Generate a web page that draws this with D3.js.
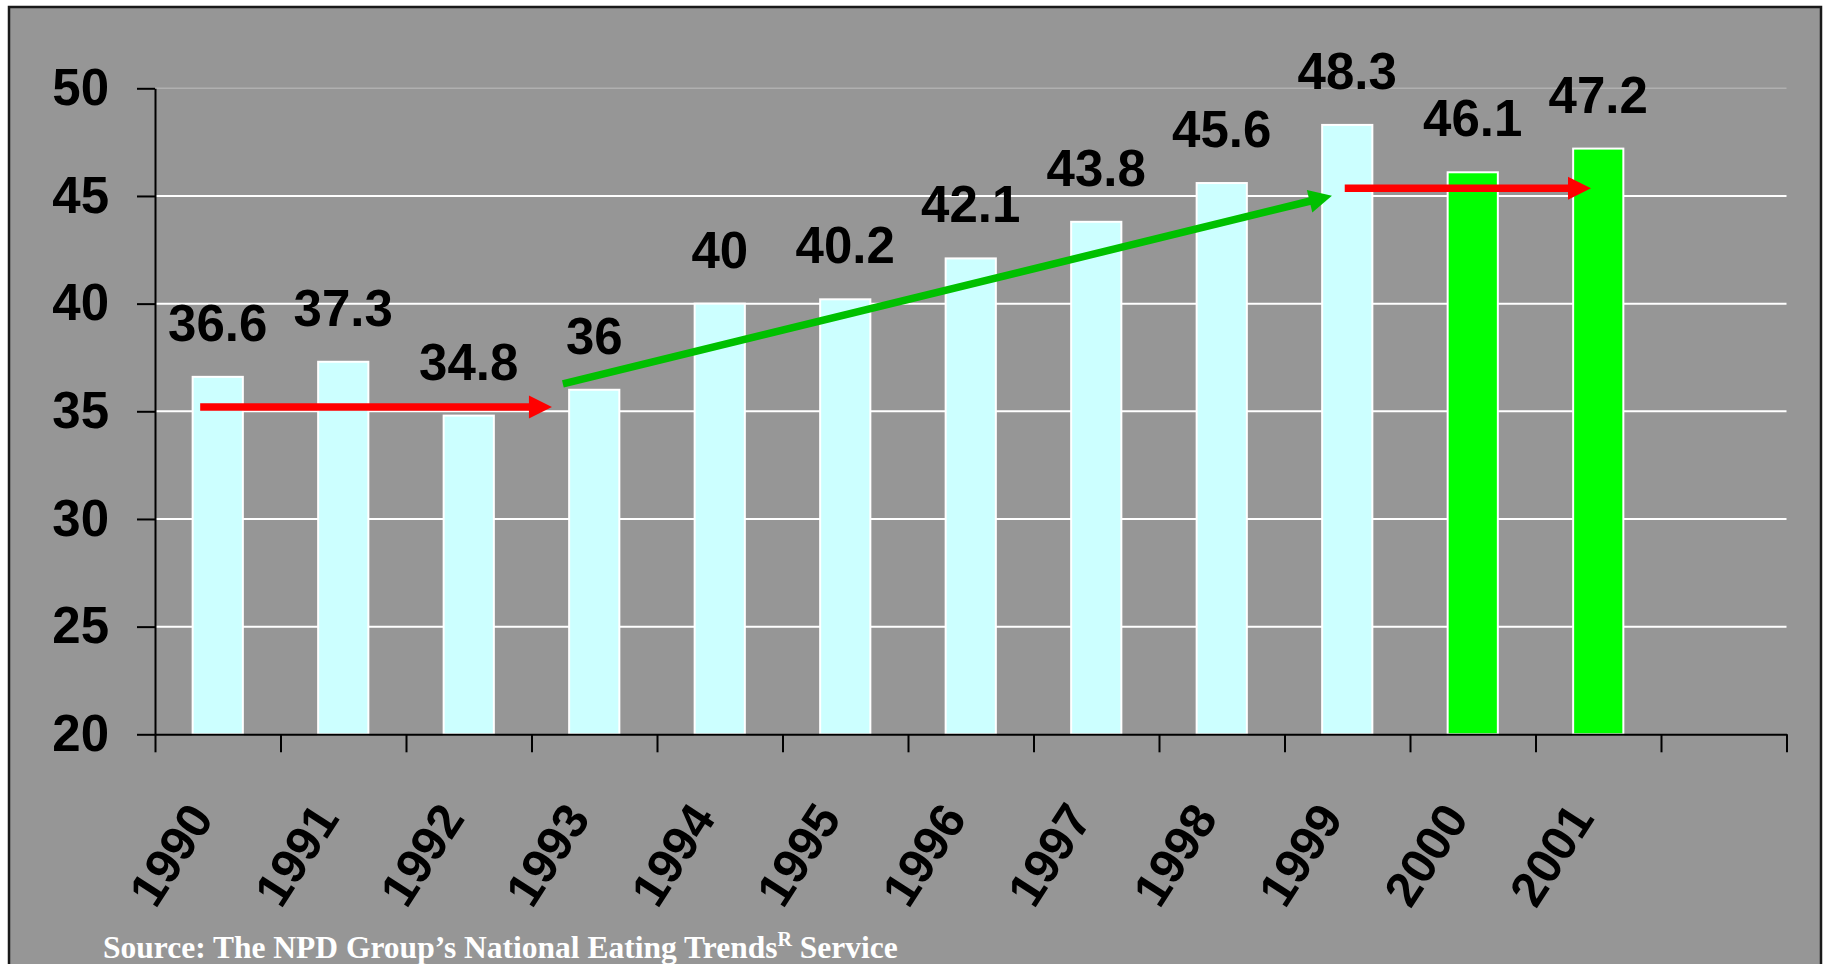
<!DOCTYPE html>
<html>
<head>
<meta charset="utf-8">
<script src="https://cdn.jsdelivr.net/npm/d3@7/dist/d3.min.js"></script>
<style>
  html, body { margin: 0; padding: 0; background: #ffffff; }
  svg { display: block; }
</style>
</head>
<body>
<svg id="chart" width="1828" height="964"></svg>
<script>
// ---- data ----
const years = ["1990","1991","1992","1993","1994","1995","1996","1997","1998","1999","2000","2001"];
const values = [36.6, 37.3, 34.8, 36, 40, 40.2, 42.1, 43.8, 45.6, 48.3, 46.1, 47.2];
const barColors = ["#ccffff","#ccffff","#ccffff","#ccffff","#ccffff","#ccffff","#ccffff","#ccffff","#ccffff","#ccffff","#00ff00","#00ff00"];
const yTicks = [20, 25, 30, 35, 40, 45, 50];
// trend arrows, in category-slot units (x) and data units (y)
const arrowFromX = [0.36, 3.25, 9.48];
const arrowFromY = [35.2, 36.27, 45.36];
const arrowToX = [3.163, 9.378, 11.442];
const arrowToY = [35.2, 45.01, 45.36];
const arrowColors = ["#ff0000", "#00c000", "#ff0000"];
const sourceText = "Source: The NPD Group\u2019s National Eating Trends";
const sourceSup = "R";
const sourceTail = " Service";

(function () {
// ---- layout ----
const svg = d3.select("#chart");
const pLeft = 155, pRight = 1786.5, pTop = 88.3, pBottom = 734.3;
const nSlots = years.length + 1;

svg.append("rect")
  .attr("x", 9).attr("y", 7).attr("width", 1812).attr("height", 1000)
  .attr("fill", "#969696").attr("stroke", "#1a1a1a").attr("stroke-width", 2.5);

const x = d3.scaleBand().domain(years.concat(["_"])).range([pLeft, pRight]).padding(0);
const xl = d3.scaleLinear().domain([0, nSlots]).range([pLeft, pRight]);
const y = d3.scaleLinear().domain([20, 50]).range([pBottom, pTop]);

const font = "'Liberation Sans', Arial, sans-serif";

// gridlines
svg.append("g").selectAll("line")
  .data(yTicks.filter(d => d > 20))
  .join("line")
  .attr("x1", pLeft).attr("x2", pRight)
  .attr("y1", d => y(d)).attr("y2", d => y(d))
  .attr("stroke", d => d === 50 ? "#b0b0b0" : "#ffffff")
  .attr("stroke-width", d => d === 50 ? 1.5 : 2);

// bars
const bw = x.bandwidth() * 0.4;
svg.append("g").selectAll("rect")
  .data(values)
  .join("rect")
  .attr("x", (d, i) => x(years[i]) + x.bandwidth() / 2 - bw / 2)
  .attr("y", d => y(d))
  .attr("width", bw)
  .attr("height", d => y(20) - y(d))
  .attr("fill", (d, i) => barColors[i])
  .attr("stroke", "#ffffff")
  .attr("stroke-width", 2);

// value labels
svg.append("g").selectAll("text")
  .data(values)
  .join("text")
  .attr("x", (d, i) => x(years[i]) + x.bandwidth() / 2)
  .attr("y", d => y(d) - 36)
  .attr("text-anchor", "middle")
  .attr("font-family", font).attr("font-weight", "bold").attr("font-size", 51)
  .attr("fill", "#000")
  .text(d => d3.format("")(d));

// y axis
const yAxis = svg.append("g")
  .attr("transform", `translate(${pLeft},0)`)
  .call(d3.axisLeft(y).tickValues(yTicks).tickSize(18).tickSizeOuter(0).tickPadding(28).tickFormat(d3.format("d")));
yAxis.select(".domain").attr("stroke", "#000").attr("stroke-width", 2);
yAxis.selectAll(".tick line").attr("stroke", "#000").attr("stroke-width", 2);
yAxis.selectAll(".tick text")
  .attr("font-family", font).attr("font-weight", "bold").attr("font-size", 51).attr("fill", "#000");

// x axis
const xAxis = svg.append("g")
  .attr("transform", `translate(0,${pBottom})`)
  .call(d3.axisBottom(xl).tickValues(d3.range(nSlots + 1)).tickSize(18).tickSizeOuter(0).tickFormat(""));
xAxis.select(".domain").attr("stroke", "#000").attr("stroke-width", 2);
xAxis.selectAll(".tick line").attr("stroke", "#000").attr("stroke-width", 2);

// x labels
svg.append("g").selectAll("text")
  .data(years)
  .join("text")
  .attr("transform", d => `translate(${x(d) + x.bandwidth() / 2 - 3},${pBottom + 84}) rotate(-57)`)
  .attr("text-anchor", "end")
  .attr("font-family", font).attr("font-weight", "bold").attr("font-size", 49)
  .attr("fill", "#000")
  .text(d => d);

// arrows
const arrows = arrowFromX.map((fx, i) => ({
  x0: xl(fx), y0: y(arrowFromY[i]), x1: xl(arrowToX[i]), y1: y(arrowToY[i]), c: arrowColors[i]
}));
const headLen = 23, headHalf = 11.5;
const ag = svg.append("g");
arrows.forEach(a => {
  const dx = a.x1 - a.x0, dy = a.y1 - a.y0, len = Math.hypot(dx, dy);
  const ux = dx / len, uy = dy / len;
  const bx = a.x1 - ux * headLen, by = a.y1 - uy * headLen;
  ag.append("line")
    .attr("x1", a.x0).attr("y1", a.y0).attr("x2", bx + ux * 2).attr("y2", by + uy * 2)
    .attr("stroke", a.c).attr("stroke-width", 7.5);
  ag.append("polygon")
    .attr("points", [
      [a.x1, a.y1],
      [bx - uy * headHalf, by + ux * headHalf],
      [bx + uy * headHalf, by - ux * headHalf]
    ].map(p => p.join(",")).join(" "))
    .attr("fill", a.c);
});

// source
const src = svg.append("text")
  .attr("x", 103).attr("y", 958)
  .attr("font-family", "'Liberation Serif', 'Times New Roman', serif")
  .attr("font-weight", "bold").attr("font-size", 31.5)
  .attr("fill", "#ffffff");
src.append("tspan").text(sourceText);
src.append("tspan").attr("dy", -12).attr("font-size", 20).text(sourceSup);
src.append("tspan").attr("dy", 12).text(sourceTail);
})();
</script>
</body>
</html>
